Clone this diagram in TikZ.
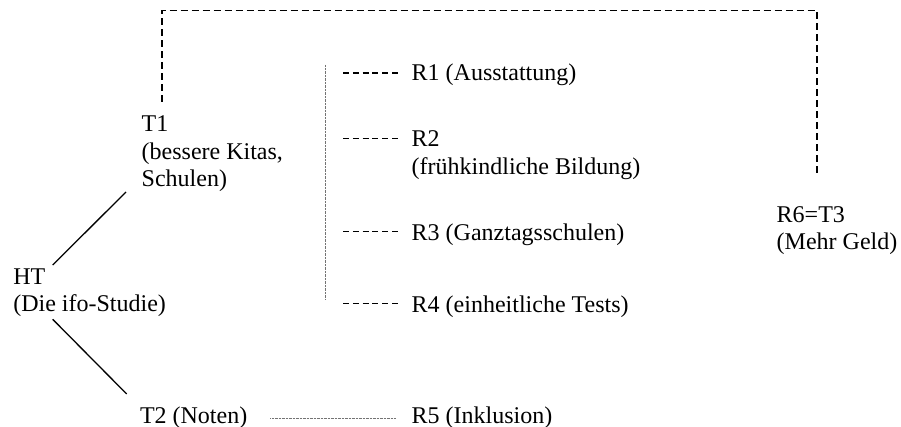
\documentclass[tikz,border=0pt]{standalone}
\usepackage{fontspec}
\setmainfont{Liberation Serif}
\begin{document}
\begin{tikzpicture}[x=1pt,y=-1pt,
  lbl/.style={inner sep=0pt,outer sep=0pt,anchor=base west,align=left,
    font=\fontsize{24}{27.3}\selectfont},
  solidline/.style={line width=1.3pt,black},
  bigdash/.style={line width=1.3pt,black,dash pattern=on 7pt off 4pt},
  rdash/.style={line width=1.1pt,black,dash pattern=on 6pt off 3.8pt},
  dotline/.style={line width=1pt,black!55,dash pattern=on 0.7pt off 0.7pt}]
\useasboundingbox (0,0) rectangle (901,427);
\fill[white] (0,0) rectangle (901,427);
\coordinate (topline) at (0,10.7);

% base anchor of a multi-line node = baseline of its last line
\node[lbl] (T1) at (141.7,186.5) {T1\\(bessere Kitas,\\Schulen)};
\node[lbl] (HT) at (13.3,312) {HT\\(Die ifo-Studie)};
\node[lbl] (T2) at (140,423.3) {T2 (Noten)};
\node[lbl] (R1) at (411.7,81) {R1 (Ausstattung)};
\node[lbl] (R2) at (411.7,174.3) {R2\\(frühkindliche Bildung)};
\node[lbl] (R3) at (411.7,241) {R3 (Ganztagsschulen)};
\node[lbl] (R4) at (411.7,312.5) {R4 (einheitliche Tests)};
\node[lbl] (R5) at (411.7,423.3) {R5 (Inklusion)};
\node[lbl] (R6) at (776.7,250) {R6=T3\\(Mehr Geld)};

% tree lines
\draw[solidline] ([shift={(39.4,-47)}]HT.base west) -- ([shift={(-15.7,5.5)}]T1.base west);
\draw[solidline] ([shift={(39.4,7.3)}]HT.base west) -- ([shift={(-13.3,-29.3)}]T2.base west);

% long dashed bracket T1 -> R6
\draw[bigdash] ([shift={(20.3,-84.5)}]T1.base west) coordinate (t1top)
  -- (t1top |- topline) -| ([shift={(40.3,-75)}]R6.base west);

% dotted vertical bar
\draw[dotline] ([shift={(-86.7,-16)}]R1.base west) -- ([shift={(-86.7,-13.5)}]R4.base west);

% short dashes to R1..R4
\draw[rdash] ([shift={(-68.7,-8)}]R1.base west) -- ++(55,0);
\draw[rdash] ([shift={(-68.7,-36)}]R2.base west) -- ++(55,0);
\draw[rdash] ([shift={(-68.7,-9.3)}]R3.base west) -- ++(55,0);
\draw[rdash] ([shift={(-68.7,-9)}]R4.base west) -- ++(55,0);

% dotted T2 -> R5
\draw[dotline] ([shift={(23,-5)}]T2.base east) -- ([shift={(-15.7,-5)}]R5.base west);
\end{tikzpicture}
\end{document}
